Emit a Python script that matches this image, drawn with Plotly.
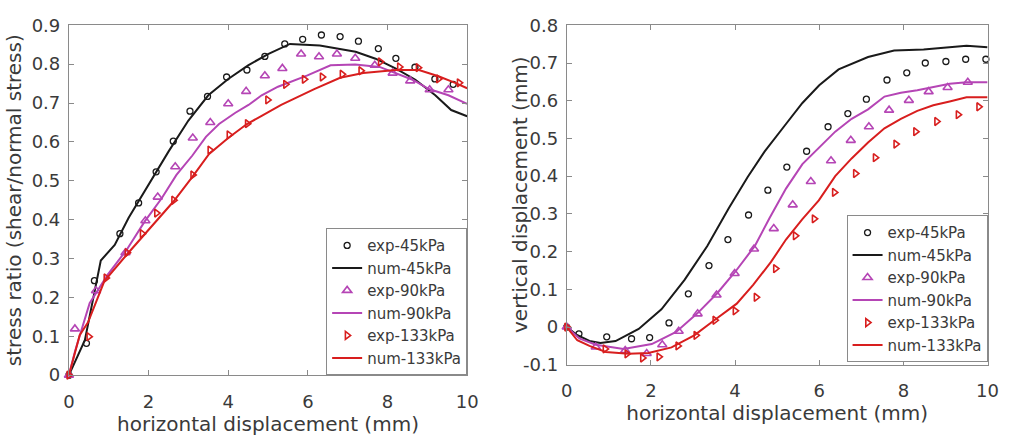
import plotly.graph_objects as go

# ---------------- Left panel: stress ratio ----------------
L_exp45_x = [0, 0.44, 0.64, 1.28, 1.75, 2.19, 2.62, 3.04, 3.48, 3.96, 4.47, 4.92, 5.42, 5.87, 6.34, 6.81, 7.27, 7.77, 8.21, 8.69, 9.19, 9.65]
L_exp45_y = [0, 0.082, 0.243, 0.364, 0.443, 0.523, 0.602, 0.679, 0.717, 0.767, 0.785, 0.820, 0.852, 0.864, 0.875, 0.871, 0.859, 0.840, 0.815, 0.792, 0.762, 0.748]
L_num45_x = [0, 0.4, 0.8, 1.15, 1.5, 2.0, 2.5, 3.0, 3.5, 4.0, 4.5, 5.0, 5.55, 6.3, 6.8, 7.2, 7.7, 8.2, 8.7, 9.2, 9.6, 10.0]
L_num45_y = [0, 0.09, 0.295, 0.335, 0.405, 0.49, 0.575, 0.655, 0.72, 0.762, 0.797, 0.826, 0.852, 0.848, 0.84, 0.832, 0.814, 0.789, 0.76, 0.72, 0.682, 0.666]
L_exp90_x = [0, 0.15, 0.68, 1.42, 1.92, 2.23, 2.67, 3.11, 3.55, 4.0, 4.45, 4.92, 5.36, 5.83, 6.28, 6.73, 7.19, 7.68, 8.13, 8.57, 9.06, 9.53]
L_exp90_y = [0, 0.119, 0.217, 0.315, 0.397, 0.458, 0.536, 0.61, 0.65, 0.698, 0.73, 0.77, 0.789, 0.826, 0.819, 0.826, 0.815, 0.797, 0.777, 0.757, 0.734, 0.734]
L_num90_x = [0, 0.15, 0.52, 0.97, 1.46, 1.9, 2.33, 2.7, 3.1, 3.44, 3.77, 4.18, 4.51, 4.84, 5.25, 5.99, 6.57, 7.19, 7.8, 8.21, 8.63, 9.04, 9.53, 10.0]
L_num90_y = [0, 0.06, 0.185, 0.258, 0.324, 0.395, 0.455, 0.515, 0.565, 0.613, 0.646, 0.675, 0.695, 0.72, 0.742, 0.771, 0.797, 0.799, 0.793, 0.777, 0.76, 0.736, 0.72, 0.698]
L_exp133_x = [0, 0.5, 0.93, 1.46, 1.84, 2.2, 2.63, 3.11, 3.54, 4.02, 4.48, 4.99, 5.44, 5.91, 6.36, 6.86, 7.33, 7.82, 8.3, 8.77, 9.28, 9.8]
L_exp133_y = [0, 0.099, 0.25, 0.315, 0.364, 0.417, 0.45, 0.515, 0.579, 0.618, 0.647, 0.708, 0.748, 0.761, 0.767, 0.774, 0.783, 0.806, 0.793, 0.791, 0.762, 0.752]
L_num133_x = [0, 0.27, 0.48, 0.89, 1.46, 1.96, 2.62, 3.1, 3.52, 4.0, 4.47, 4.84, 5.33, 6.16, 6.81, 7.39, 8.21, 8.79, 9.28, 9.7, 10.0]
L_num133_y = [0, 0.103, 0.136, 0.242, 0.311, 0.368, 0.446, 0.51, 0.569, 0.61, 0.646, 0.667, 0.695, 0.736, 0.765, 0.777, 0.785, 0.785, 0.769, 0.752, 0.738]

# ---------------- Right panel: vertical displacement ----------------
R_exp45_x = [0, 0.29, 0.95, 1.54, 1.97, 2.43, 2.89, 3.38, 3.83, 4.32, 4.78, 5.23, 5.7, 6.21, 6.68, 7.12, 7.61, 8.08, 8.52, 9.01, 9.48, 9.96]
R_exp45_y = [0, -0.018, -0.026, -0.031, -0.028, 0.011, 0.088, 0.163, 0.232, 0.297, 0.363, 0.424, 0.466, 0.531, 0.566, 0.604, 0.655, 0.674, 0.700, 0.704, 0.710, 0.710]
R_num45_x = [0, 0.23, 0.54, 0.8, 1.16, 1.71, 2.25, 2.8, 3.34, 3.85, 4.3, 4.7, 5.2, 5.6, 6.0, 6.46, 7.16, 7.78, 8.48, 9.1, 9.5, 10]
R_num45_y = [0, -0.02, -0.037, -0.042, -0.037, -0.005, 0.047, 0.125, 0.215, 0.315, 0.398, 0.465, 0.537, 0.594, 0.641, 0.683, 0.716, 0.733, 0.736, 0.743, 0.746, 0.742]
R_exp90_x = [0, 0.69, 1.39, 1.9, 2.27, 2.66, 3.11, 3.56, 3.99, 4.45, 4.92, 5.37, 5.8, 6.28, 6.75, 7.18, 7.66, 8.13, 8.6, 9.05, 9.53]
R_exp90_y = [0, -0.053, -0.062, -0.07, -0.047, -0.011, 0.035, 0.085, 0.142, 0.207, 0.261, 0.324, 0.386, 0.441, 0.495, 0.531, 0.575, 0.601, 0.624, 0.635, 0.649]
R_num90_x = [0, 0.3, 0.69, 1.35, 2.02, 2.6, 3.11, 3.57, 4.0, 4.47, 4.82, 5.21, 5.6, 5.99, 6.38, 6.77, 7.16, 7.55, 7.94, 8.33, 8.71, 9.1, 9.5, 10]
R_num90_y = [0, -0.03, -0.047, -0.058, -0.045, -0.013, 0.037, 0.089, 0.146, 0.215, 0.289, 0.367, 0.432, 0.476, 0.518, 0.552, 0.577, 0.611, 0.621, 0.628, 0.636, 0.645, 0.649, 0.649]
R_exp133_x = [0, 0.91, 1.43, 1.8, 2.19, 2.64, 3.07, 3.52, 4.0, 4.5, 4.96, 5.43, 5.88, 6.36, 6.86, 7.33, 7.82, 8.29, 8.79, 9.3, 9.79]
R_exp133_y = [0, -0.058, -0.071, -0.082, -0.079, -0.05, -0.022, 0.018, 0.043, 0.079, 0.155, 0.242, 0.287, 0.357, 0.407, 0.449, 0.485, 0.518, 0.545, 0.563, 0.584]
R_num133_x = [0, 0.25, 0.54, 0.93, 1.47, 1.94, 2.49, 3.03, 3.53, 4.04, 4.43, 4.85, 5.21, 5.6, 5.99, 6.38, 6.77, 7.16, 7.55, 7.94, 8.33, 8.71, 9.1, 9.5, 10]
R_num133_y = [0, -0.035, -0.05, -0.066, -0.071, -0.069, -0.054, -0.022, 0.02, 0.062, 0.112, 0.172, 0.232, 0.286, 0.336, 0.40, 0.447, 0.489, 0.527, 0.552, 0.573, 0.588, 0.598, 0.609, 0.609]

x_ticks = [0, 2, 4, 6, 8, 10]
left_y_ticks = [0, 0.1, 0.2, 0.3, 0.4, 0.5, 0.6, 0.7, 0.8, 0.9]
left_y_text = ["0", "0.1", "0.2", "0.3", "0.4", "0.5", "0.6", "0.7", "0.8", "0.9"]
right_y_ticks = [-0.1, 0, 0.1, 0.2, 0.3, 0.4, 0.5, 0.6, 0.7, 0.8]
right_y_text = ["-0.1", "0", "0.1", "0.2", "0.3", "0.4", "0.5", "0.6", "0.7", "0.8"]

BLACK = "#1a1a1a"
MAGENTA = "#b545b5"
RED = "#d81e1e"
FONT = "DejaVu Sans"
TXT = "#3a3a3a"
AXC = "#8a8a8a"
TICK_SIZE = 18
TITLE_SIZE = 20
LEG_SIZE = 15

fig = go.Figure()

def add_set(xa, ya, leg, data):
    (e45x, e45y, n45x, n45y, e90x, e90y, n90x, n90y, e133x, e133y, n133x, n133y) = data
    fig.add_trace(go.Scatter(x=e45x, y=e45y, mode="markers", name="exp-45kPa", xaxis=xa, yaxis=ya, legend=leg,
                             cliponaxis=False,
                             marker=dict(symbol="circle-open", size=6, color=BLACK, line=dict(width=1.3, color=BLACK))))
    fig.add_trace(go.Scatter(x=n45x, y=n45y, mode="lines", name="num-45kPa", xaxis=xa, yaxis=ya, legend=leg,
                             line=dict(color=BLACK, width=2)))
    fig.add_trace(go.Scatter(x=e90x, y=e90y, mode="markers", name="exp-90kPa", xaxis=xa, yaxis=ya, legend=leg,
                             cliponaxis=False,
                             marker=dict(symbol="triangle-up-open", size=8, color=MAGENTA, line=dict(width=1.6, color=MAGENTA))))
    fig.add_trace(go.Scatter(x=n90x, y=n90y, mode="lines", name="num-90kPa", xaxis=xa, yaxis=ya, legend=leg,
                             line=dict(color=MAGENTA, width=2)))
    fig.add_trace(go.Scatter(x=e133x, y=e133y, mode="markers", name="exp-133kPa", xaxis=xa, yaxis=ya, legend=leg,
                             cliponaxis=False,
                             marker=dict(symbol="triangle-right-open", size=7, color=RED, line=dict(width=1.6, color=RED))))
    fig.add_trace(go.Scatter(x=n133x, y=n133y, mode="lines", name="num-133kPa", xaxis=xa, yaxis=ya, legend=leg,
                             line=dict(color=RED, width=2)))

add_set("x", "y", "legend", (L_exp45_x, L_exp45_y, L_num45_x, L_num45_y, L_exp90_x, L_exp90_y,
                             L_num90_x, L_num90_y, L_exp133_x, L_exp133_y, L_num133_x, L_num133_y))
add_set("x2", "y2", "legend2", (R_exp45_x, R_exp45_y, R_num45_x, R_num45_y, R_exp90_x, R_exp90_y,
                                R_num90_x, R_num90_y, R_exp133_x, R_exp133_y, R_num133_x, R_num133_y))

W, H = 1014, 438
common_axis = dict(showline=True, linecolor=AXC, linewidth=1, mirror="allticks", ticks="inside",
                   ticklen=5, tickcolor=AXC, showgrid=False, zeroline=False,
                   tickfont=dict(family=FONT, size=TICK_SIZE, color=TXT))
title_font = dict(family=FONT, size=TITLE_SIZE, color=TXT)

fig.update_layout(
    width=W, height=H, margin=dict(l=0, r=0, t=0, b=0),
    paper_bgcolor="white", plot_bgcolor="white",
    font=dict(family=FONT, color=TXT),
    xaxis=dict(common_axis, domain=[64 / W, 469 / W], range=[0, 10], anchor="y",
               tickvals=x_ticks, ticklabelstandoff=10,
               title=dict(text="horizontal displacement (mm)", font=title_font, standoff=5)),
    yaxis=dict(common_axis, domain=[1 - 382.5 / H, 1 - 15 / H], range=[0, 0.9], anchor="x",
               tickvals=left_y_ticks, ticktext=left_y_text, ticklabelstandoff=4,
               title=dict(text="stress ratio (shear/normal stress)", font=title_font, standoff=4)),
    xaxis2=dict(common_axis, domain=[570.3 / W, 998.3 / W], range=[0, 10], anchor="y2",
                tickvals=x_ticks, ticklabelstandoff=10,
                title=dict(text="horizontal displacement (mm)", font=title_font, standoff=5)),
    yaxis2=dict(common_axis, domain=[1 - 371.6 / H, 1 - 15 / H], range=[-0.1, 0.8], anchor="x2",
                tickvals=right_y_ticks, ticktext=right_y_text, ticklabelstandoff=4),
    annotations=[dict(text="vertical displacement (mm)", textangle=-90, font=title_font,
                      xref="paper", yref="paper", x=522 / W, y=1 - 193 / H,
                      xanchor="center", yanchor="middle", showarrow=False)],
    legend=dict(x=469 / W, y=1 - 382.5 / H, xanchor="right", yanchor="bottom",
                bgcolor="white", bordercolor=AXC, borderwidth=1,
                font=dict(family=FONT, size=LEG_SIZE, color=TXT), tracegroupgap=0, itemwidth=30),
    legend2=dict(x=998.3 / W, y=1 - 369 / H, xanchor="right", yanchor="bottom",
                 bgcolor="white", bordercolor=AXC, borderwidth=1,
                 font=dict(family=FONT, size=LEG_SIZE, color=TXT), tracegroupgap=0, itemwidth=30),
)

fig.write_html("out.html")
